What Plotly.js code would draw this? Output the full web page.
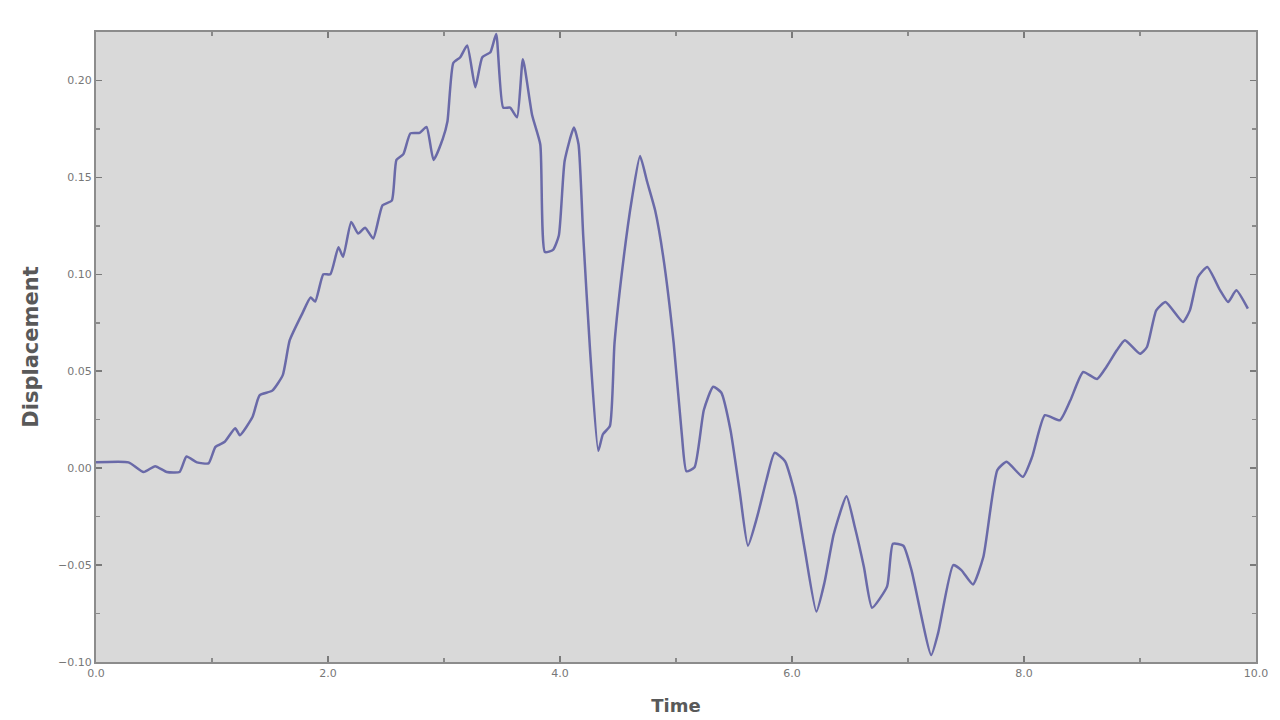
<!DOCTYPE html>
<html>
<head>
<meta charset="utf-8">
<script src="https://cdn.plot.ly/plotly-3.0.1.min.js"></script>
<style>
  html, body { margin: 0; padding: 0; background: #ffffff; }
  #chart { width: 1280px; height: 720px; }
</style>
</head>
<body>
<div id="chart"></div>
<script>

// time (s)
var time = [
  0.00, 0.28, 0.41, 0.51, 0.61, 0.72, 0.78, 0.87, 0.97, 1.03,
  1.11, 1.20, 1.24, 1.35, 1.41, 1.52, 1.61, 1.67, 1.78, 1.85,
  1.89, 1.96, 2.02, 2.09, 2.13, 2.20, 2.26, 2.32, 2.39, 2.47,
  2.55, 2.59, 2.65, 2.71, 2.79, 2.85, 2.91, 2.99, 3.03, 3.08,
  3.14, 3.20, 3.27, 3.33, 3.40, 3.45, 3.51, 3.57, 3.63, 3.68,
  3.76, 3.83, 3.87, 3.94, 3.99, 4.04, 4.12, 4.16, 4.20, 4.26,
  4.33, 4.37, 4.43, 4.47, 4.55, 4.62, 4.69, 4.75, 4.82, 4.89,
  4.98, 5.05, 5.09, 5.16, 5.24, 5.32, 5.39, 5.47, 5.55, 5.62,
  5.70, 5.78, 5.85, 5.94, 6.03, 6.11, 6.21, 6.28, 6.36, 6.47,
  6.54, 6.62, 6.69, 6.82, 6.87, 6.96, 7.03, 7.20, 7.26, 7.39,
  7.46, 7.56, 7.65, 7.77, 7.85, 7.99, 8.07, 8.18, 8.31, 8.40,
  8.51, 8.63, 8.71, 8.80, 8.87, 9.00, 9.06, 9.14, 9.22, 9.37,
  9.43, 9.50, 9.58, 9.69, 9.76, 9.83, 9.93
];

// displacement
var displacement = [
  0.003, 0.003, -0.002, 0.001, -0.002, -0.002, 0.006, 0.003, 0.0025, 0.011,
  0.0136, 0.0206, 0.017, 0.0265, 0.0376, 0.040, 0.048, 0.066, 0.080, 0.088,
  0.086, 0.100, 0.100, 0.114, 0.109, 0.127, 0.121, 0.124, 0.1185, 0.1356,
  0.138, 0.159, 0.162, 0.1727, 0.173, 0.176, 0.159, 0.170, 0.179, 0.209,
  0.212, 0.218, 0.1965, 0.212, 0.2146, 0.224, 0.186, 0.186, 0.181, 0.211,
  0.182, 0.167, 0.1115, 0.1126, 0.120, 0.1585, 0.1757, 0.167, 0.120, 0.060,
  0.009, 0.0175, 0.0217, 0.0645, 0.109, 0.139, 0.161, 0.148, 0.133, 0.109,
  0.0645, 0.0175, -0.0016, 0.0005, 0.030, 0.042, 0.039, 0.0196, -0.0124, -0.040,
  -0.025, -0.006, 0.0079, 0.0036, -0.0145, -0.042, -0.074, -0.059, -0.034, -0.0145,
  -0.030, -0.051, -0.072, -0.061, -0.039, -0.040, -0.0526, -0.0964, -0.085, -0.050,
  -0.0526, -0.060, -0.0457, -0.001, 0.0033, -0.0045, 0.0058, 0.0273, 0.0247, 0.035,
  0.0496, 0.046, 0.0522, 0.0608, 0.066, 0.059, 0.0625, 0.0814, 0.0857, 0.0754,
  0.0814, 0.0986, 0.1038, 0.0918, 0.0857, 0.0918, 0.0823
];

var xTickVals = [0, 2, 4, 6, 8, 10];
var yTickVals = [-0.10, -0.05, 0.00, 0.05, 0.10, 0.15, 0.20];

var trace = {
  x: time,
  y: displacement,
  type: 'scatter',
  mode: 'lines',
  line: { color: '#6a6aa8', width: 2.5, shape: 'spline', smoothing: 0.5 },
  hoverinfo: 'skip'
};

var axisCommon = {
  showline: true,
  linecolor: '#8c8c8c',
  linewidth: 2,
  mirror: 'ticks',
  ticks: 'inside',
  ticklen: 6,
  tickwidth: 1.5,
  tickcolor: '#7a7a7a',
  showgrid: false,
  zeroline: false,
  tickfont: { family: 'DejaVu Sans, sans-serif', size: 11, color: '#777777' }
};

var layout = {
  width: 1280,
  height: 720,
  margin: { l: 96, r: 24, t: 32, b: 58 },
  paper_bgcolor: '#ffffff',
  plot_bgcolor: '#d9d9d9',
  showlegend: false,
  xaxis: Object.assign({}, axisCommon, {
    range: [0, 10],
    tickvals: xTickVals,
    tickformat: '.1f',
    minor: { dtick: 1, ticks: 'inside', ticklen: 4, tickcolor: '#8a8a8a' },
    title: { text: '<b>Time</b>', standoff: 20,
             font: { family: 'DejaVu Sans, sans-serif', size: 18, color: '#595959' } }
  }),
  yaxis: Object.assign({}, axisCommon, {
    range: [-0.10, 0.225],
    tickvals: yTickVals,
    tickformat: '.2f',
    minor: { dtick: 0.025, ticks: 'inside', ticklen: 4, tickcolor: '#8a8a8a' },
    title: { text: '<b>Displacement</b>', standoff: 14,
             font: { family: 'DejaVu Sans, sans-serif', size: 21, color: '#595959' } }
  })
};

Plotly.newPlot('chart', [trace], layout, { staticPlot: true, displayModeBar: false });
</script>
</body>
</html>
